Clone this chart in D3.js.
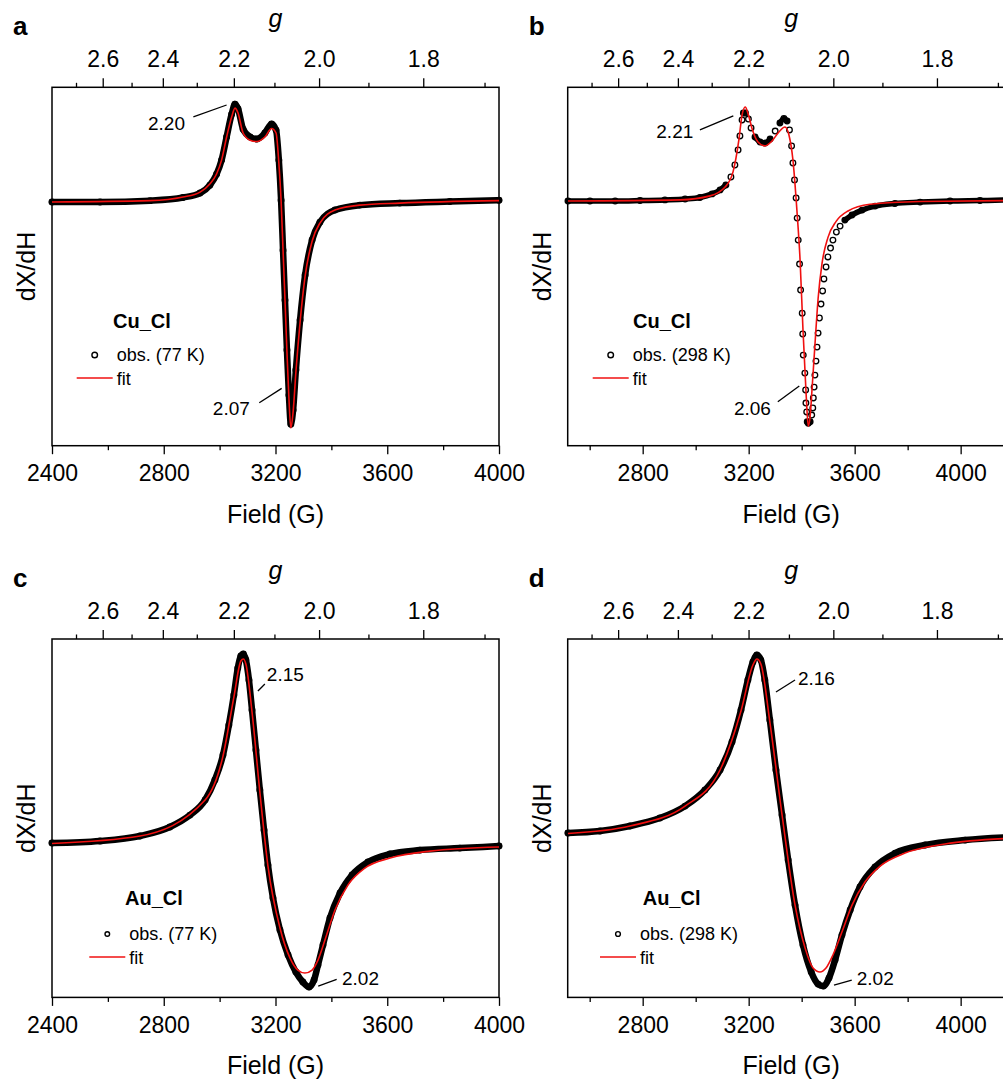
<!DOCTYPE html>
<html>
<head>
<meta charset="utf-8">
<script src="https://cdn.jsdelivr.net/npm/d3@7"></script>
<style>
  body { margin: 0; background: #fff; }
  text { font-family: "Liberation Sans", Arial, sans-serif; fill: #000; }
</style>
</head>
<body>
<svg id="fig" width="1003" height="1082"></svg>
<script>
/*globals d3 */
(function() {
	"use strict";

	// axis ticks
	var fieldMajor = [2400, 2800, 3200, 3600, 4000];
	var fieldMinor = [2600, 3000, 3400, 3800, 4200];
	var gMajor = [2.6, 2.4, 2.2, 2.0, 1.8];
	var gMinor = [2.7, 2.5, 2.3, 2.1, 1.9, 1.7];

	// [field (G), dX/dH (normalised)]
	var obsA = [[2400,-0.004],[2572,-0.004],[2751,0.002],[2869,0.016],[2930,0.036],[2965,0.071],
		[2989,0.12],[3007,0.183],[3025,0.286],[3043,0.388],[3055,0.433],[3066,0.411],[3084,0.321],
		[3109,0.286],[3133,0.277],[3162,0.304],[3186,0.344],[3202,0.317],[3212,0.183],[3220,0.004],
		[3227,-0.219],[3234,-0.442],[3241,-0.665],[3248,-0.866],[3255,-0.996],[3263,-0.933],
		[3273,-0.754],[3288,-0.531],[3306,-0.33],[3331,-0.174],[3359,-0.094],[3413,-0.04],
		[3502,-0.018],[3645,-0.009],[3824,-0.002],[4000,0.004]];
	var fitA = [[2400,-0.004],[2751,0.002],[2869,0.018],[2930,0.04],[2965,0.076],[2989,0.121],
		[3007,0.183],[3025,0.286],[3043,0.375],[3055,0.415],[3066,0.393],[3084,0.304],[3109,0.272],
		[3133,0.266],[3162,0.286],[3186,0.324],[3202,0.304],[3212,0.17],[3220,0.004],[3227,-0.219],
		[3234,-0.442],[3241,-0.674],[3248,-0.879],[3255,-1.013],[3263,-0.942],[3273,-0.763],
		[3288,-0.54],[3306,-0.335],[3331,-0.179],[3359,-0.098],[3413,-0.04],[3502,-0.018],
		[3645,-0.009],[4000,0.002]];

	var obsB = [[2518,0],[2601,0],[2696,0],[2790,0.002],[2884,0.005],[2960,0.009],[3016,0.016],
		[3062,0.032],[3092,0.05],[3114,0.072],[3133,0.108],[3148,0.162],[3160,0.23],[3167,0.293],
		[3175,0.365],[3180,0.396],[3188,0.396],[3199,0.369],[3209,0.329],[3224,0.288],[3243,0.266],
		[3262,0.261],[3281,0.279],[3300,0.315],[3318,0.351],[3333,0.372],[3345,0.36],[3354,0.32],
		[3362,0.248],[3367,0.171],[3373,0.095],[3379,0.014],[3383,-0.077],[3387,-0.176],
		[3392,-0.284],[3396,-0.401],[3402,-0.505],[3404,-0.599],[3406,-0.694],[3412,-0.775],
		[3415,-0.851],[3416,-0.91],[3419,-0.95],[3421,-0.994],[3425,-1.001],[3432,-0.994],
		[3438,-0.964],[3442,-0.932],[3444,-0.887],[3447,-0.838],[3450,-0.784],[3454,-0.721],
		[3458,-0.658],[3462,-0.595],[3467,-0.527],[3473,-0.464],[3479,-0.405],[3484,-0.351],
		[3492,-0.297],[3499,-0.252],[3509,-0.212],[3518,-0.176],[3531,-0.14],[3545,-0.113],
		[3563,-0.086],[3590,-0.063],[3628,-0.041],[3677,-0.023],[3752,-0.011],[3847,-0.005],
		[3960,0],[4073,0.002],[4205,0.005]];
	var fitB = [[2518,0],[2941,0.005],[3054,0.023],[3111,0.063],[3141,0.131],[3163,0.275],
		[3175,0.387],[3187,0.423],[3198,0.392],[3212,0.329],[3235,0.266],[3261,0.248],[3288,0.27],
		[3314,0.311],[3337,0.333],[3352,0.297],[3367,0.185],[3382,-0.041],[3394,-0.266],
		[3405,-0.581],[3417,-0.874],[3425,-1.014],[3432,-0.97],[3439,-0.85],[3450,-0.65],
		[3462,-0.44],[3477,-0.28],[3499,-0.165],[3530,-0.092],[3575,-0.045],[3658,-0.015],
		[3847,-0.002],[4205,0.002]];

	var obsC = [[2400,0],[2572,0.014],[2715,0.049],[2822,0.111],[2894,0.194],[2948,0.299],
		[2983,0.438],[3012,0.611],[3033,0.819],[3051,1.028],[3065,1.215],[3076,1.299],[3085,1.313],
		[3094,1.271],[3105,1.132],[3116,0.924],[3130,0.646],[3144,0.368],[3159,0.09],[3173,-0.153],
		[3191,-0.382],[3216,-0.604],[3245,-0.778],[3273,-0.896],[3298,-0.965],[3320,-1.0],
		[3338,-0.951],[3352,-0.847],[3370,-0.708],[3395,-0.521],[3431,-0.347],[3474,-0.222],
		[3531,-0.132],[3610,-0.076],[3717,-0.049],[3860,-0.035],[4000,-0.021]];
	var fitC = [[2400,-0.003],[2715,0.049],[2948,0.299],[3012,0.604],[3051,1.014],[3076,1.264],
		[3085,1.278],[3094,1.243],[3116,0.91],[3144,0.354],[3173,-0.16],[3216,-0.59],[3252,-0.799],
		[3280,-0.882],[3305,-0.903],[3331,-0.882],[3352,-0.813],[3377,-0.674],[3413,-0.465],
		[3459,-0.292],[3520,-0.174],[3610,-0.104],[3753,-0.056],[4000,-0.028]];

	var obsD = [[2518,0],[2639,0.013],[2752,0.046],[2865,0.098],[2960,0.176],[3035,0.281],
		[3092,0.412],[3137,0.595],[3171,0.804],[3197,1.0],[3216,1.118],[3231,1.163],[3246,1.131],
		[3261,1.0],[3280,0.739],[3303,0.412],[3326,0.118],[3349,-0.176],[3375,-0.471],[3405,-0.732],
		[3436,-0.908],[3462,-0.987],[3482,-1.0],[3503,-0.948],[3526,-0.83],[3552,-0.667],
		[3583,-0.503],[3620,-0.353],[3677,-0.222],[3753,-0.131],[3866,-0.078],[4017,-0.046],
		[4205,-0.026]];
	var fitD = [[2518,-0.003],[2752,0.046],[2960,0.176],[3092,0.412],[3171,0.797],[3216,1.098],
		[3231,1.137],[3246,1.105],[3280,0.725],[3326,0.118],[3375,-0.471],[3413,-0.752],
		[3443,-0.882],[3469,-0.908],[3492,-0.882],[3518,-0.797],[3552,-0.647],[3590,-0.471],
		[3639,-0.32],[3696,-0.216],[3790,-0.131],[3941,-0.072],[4205,-0.033]];

	// g-value labels: text position and leader line, in [field, dX/dH]
	var notesA = [
		{label: "2.20", at: [2876, 0.317], anchor: "end", line: [[2906, 0.376], [3025, 0.429]]},
		{label: "2.07", at: [3108, -0.955], anchor: "end", line: [[3142, -0.9], [3222, -0.836]]}
	];
	var notesB = [
		{label: "2.21", at: [2991, 0.284], anchor: "end", line: [[3016, 0.32], [3142, 0.383]]},
		{label: "2.06", at: [3284, -0.964], anchor: "end", line: [[3310, -0.904], [3391, -0.833]]}
	];
	var notesC = [
		{label: "2.15", at: [3169, 1.125], anchor: "start", line: [[3137, 1.056], [3162, 1.104]]},
		{label: "2.02", at: [3438, -0.986], anchor: "start", line: [[3353, -0.993], [3419, -0.947]]}
	];
	var notesD = [
		{label: "2.16", at: [3386, 0.967], anchor: "start", line: [[3303, 0.922], [3375, 1.0]]},
		{label: "2.02", at: [3608, -0.993], anchor: "start", line: [[3522, -0.993], [3589, -0.961]]}
	];

	var panels = [
		{tag: "a", left: 52, top: 87.3, fDom: [2400, 4000], yDom: [-1.092, 0.508], K: 6712,
			obs: obsA, fit: fitA, notes: notesA, dotted: false, name: "Cu_Cl", temp: "obs. (77 K)",
			leg: {tx: 61, ty: 240.7, mx: 64.7, my: 273.7, r: 2.8}},
		{tag: "b", left: 567.7, top: 87.3, fDom: [2517, 4204], yDom: [-1.102, 0.512], K: 7039,
			obs: obsB, fit: fitB, notes: notesB, dotted: true, name: "Cu_Cl", temp: "obs. (298 K)",
			leg: {tx: 65.3, ty: 240.7, mx: 65, my: 273.7, r: 2.8}},
		{tag: "c", left: 52, top: 639, fDom: [2400, 4000], yDom: [-1.072, 1.417], K: 6712,
			obs: obsC, fit: fitC, notes: notesC, dotted: false, name: "Au_Cl", temp: "obs. (77 K)",
			leg: {tx: 73, ty: 266, mx: 77.3, my: 301, r: 2.3}},
		{tag: "d", left: 567.7, top: 639, fDom: [2517, 4204], yDom: [-1.074, 1.268], K: 7039,
			obs: obsD, fit: fitD, notes: notesD, dotted: false, name: "Au_Cl", temp: "obs. (298 K)",
			leg: {tx: 75, ty: 266, mx: 72.3, my: 301, r: 2.4}}
	];

	var W = 447, H = 358.4, RED = "#f01010";
	var svg = d3.select("#fig");

	// g = K / field, wrapped so d3.axis can use it
	function gScale(K, x) {
		var s = function(g) { return x(K / g); };
		s.copy = function() { return gScale(K, x); };
		s.range = function() { return x.range(); };
		s.domain = function() { return [K / x.domain()[0], K / x.domain()[1]]; };
		return s;
	}

	function inside(dom) {
		return function(v) { return v >= dom[0] && v <= dom[1]; };
	}

	function styleAxis(g) {
		g.select(".domain").remove();
		g.selectAll(".tick line").attr("stroke", "#000").attr("stroke-width", 1.3);
		g.selectAll(".tick text").attr("font-size", 23).attr("font-family", null).attr("fill", "#000");
	}

	function drawPanel(p) {
		var x = d3.scaleLinear().domain(p.fDom).range([p.left, p.left + W]);
		var y = d3.scaleLinear().domain(p.yDom).range([p.top + H, p.top]);
		var gx = gScale(p.K, x);
		var gDom = [p.K / p.fDom[1], p.K / p.fDom[0]];
		var root = svg.append("g").attr("class", "panel-" + p.tag);

		// bottom field axis
		root.append("g").attr("transform", "translate(0," + (p.top + H) + ")")
			.call(d3.axisBottom(x).tickValues(fieldMinor.filter(inside(p.fDom)))
				.tickSize(4.5).tickFormat(""))
			.call(styleAxis);
		root.append("g").attr("transform", "translate(0," + (p.top + H) + ")")
			.call(d3.axisBottom(x).tickValues(fieldMajor.filter(inside(p.fDom)))
				.tickSize(8.5).tickPadding(10.5).tickFormat(d3.format("d")))
			.call(styleAxis);

		// top g axis
		root.append("g").attr("transform", "translate(0," + p.top + ")")
			.call(d3.axisTop(gx).tickValues(gMinor.filter(inside(gDom)))
				.tickSize(4.5).tickFormat(""))
			.call(styleAxis);
		root.append("g").attr("transform", "translate(0," + p.top + ")")
			.call(d3.axisTop(gx).tickValues(gMajor.filter(inside(gDom)))
				.tickSize(9).tickPadding(11).tickFormat(d3.format(".1f")))
			.call(styleAxis);

		root.append("rect")
			.attr("x", p.left).attr("y", p.top).attr("width", W).attr("height", H)
			.attr("fill", "none").attr("stroke", "#000").attr("stroke-width", 1.5);

		// titles
		root.append("text").attr("x", p.left + W / 2).attr("y", p.top + H + 77)
			.attr("text-anchor", "middle").attr("font-size", 25).text("Field (G)");
		root.append("text").attr("x", p.left + W / 2).attr("y", p.top - 60)
			.attr("text-anchor", "middle").attr("font-size", 25).attr("font-style", "italic").text("g");
		root.append("text")
			.attr("transform", "translate(" + (p.left - 17) + "," + (p.top + H / 2) + ") rotate(-90)")
			.attr("text-anchor", "middle").attr("font-size", 25).text("dX/dH");
		root.append("text").attr("x", p.left - 39).attr("y", p.top - 52)
			.attr("font-size", 26).attr("font-weight", "bold").text(p.tag);

		var line = d3.line()
			.x(function(d) { return x(d[0]); })
			.y(function(d) { return y(d[1]); })
			.curve(d3.curveMonotoneX);

		// observed: overlapping open circles read as a thick band
		var runs = [], run = [p.obs[0]];
		p.obs.forEach(function(d, i) {
			if (i === 0) { return; }
			var prev = p.obs[i - 1];
			var steep = Math.abs(y(d[1]) - y(prev[1])) > 5.5;
			if (p.dotted && steep) {
				if (run.length > 1) { runs.push(run); }
				run = [d];
			} else {
				run.push(d);
			}
		});
		if (run.length > 1) { runs.push(run); }
		root.selectAll("path.band").data(runs).enter().append("path")
			.attr("class", "band")
			.attr("d", line)
			.attr("fill", "none").attr("stroke", "#000")
			.attr("stroke-width", p.dotted ? 5.5 : 6.5)
			.attr("stroke-linejoin", "round").attr("stroke-linecap", "round");
		root.selectAll("circle.obs").data(p.obs).enter().append("circle")
			.attr("class", "obs")
			.attr("cx", function(d) { return x(d[0]); })
			.attr("cy", function(d) { return y(d[1]); })
			.attr("r", 2.8)
			.attr("fill", "none").attr("stroke", "#000").attr("stroke-width", 1.3);

		root.append("path").datum(p.fit)
			.attr("d", line)
			.attr("fill", "none").attr("stroke", RED).attr("stroke-width", 1.6);

		// g-value labels
		p.notes.forEach(function(n) {
			root.append("line")
				.attr("x1", x(n.line[0][0])).attr("y1", y(n.line[0][1]))
				.attr("x2", x(n.line[1][0])).attr("y2", y(n.line[1][1]))
				.attr("stroke", "#000").attr("stroke-width", 1.3);
			root.append("text").attr("x", x(n.at[0])).attr("y", y(n.at[1]))
				.attr("text-anchor", n.anchor).attr("font-size", 19).text(n.label);
		});

		// legend
		var L = p.leg, lg = root.append("g").attr("transform", "translate(" + p.left + "," + p.top + ")");
		lg.append("text").attr("x", L.tx).attr("y", L.ty)
			.attr("font-size", 20).attr("font-weight", "bold").text(p.name);
		lg.append("circle").attr("cx", L.mx - 22).attr("cy", L.my - 6).attr("r", L.r)
			.attr("fill", "none").attr("stroke", "#000").attr("stroke-width", 1.4);
		lg.append("text").attr("x", L.mx).attr("y", L.my).attr("font-size", 18).text(p.temp);
		lg.append("line").attr("x1", L.mx - 40).attr("x2", L.mx - 4)
			.attr("y1", L.my + 17).attr("y2", L.my + 17)
			.attr("stroke", RED).attr("stroke-width", 1.6);
		lg.append("text").attr("x", L.mx).attr("y", L.my + 24).attr("font-size", 18).text("fit");
	}

	panels.forEach(drawPanel);
}());
</script>
</body>
</html>
